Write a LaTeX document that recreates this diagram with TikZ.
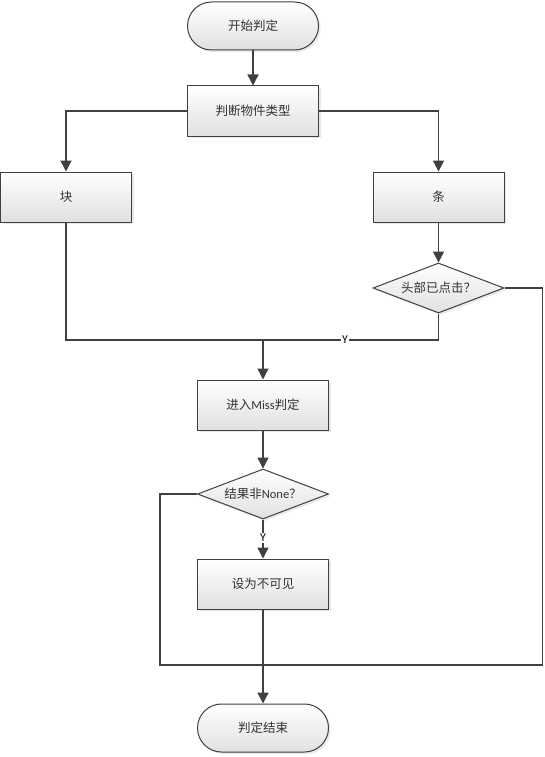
\documentclass[tikz,border=0pt]{standalone}
\usepackage{fontspec}
\setmainfont{Carlito}
\newfontfamily\cjk{Noto Sans CJK SC}
\usetikzlibrary{shapes.geometric,arrows.meta,shadows}
\definecolor{ln}{HTML}{404040}
\definecolor{tx}{HTML}{333333}
\tikzset{
  base/.style={draw=ln, line width=1pt, top color=white, bottom color=black!12,
    text=tx, font=\fontsize{12.5}{14}\selectfont, inner sep=0pt,
    drop shadow={opacity=0.18, shadow xshift=2pt, shadow yshift=-2pt}},
  proc/.style={base, rectangle, minimum width=131pt, minimum height=50pt},
  term/.style={base, rectangle, rounded corners=24pt, minimum width=131pt, minimum height=48pt},
  dec/.style={base, diamond, aspect=2.6, minimum width=131pt, minimum height=50pt},
  conn/.style={draw=ln, line width=1.4pt},
  arr/.style={conn, -{Triangle[length=11pt,width=11pt]}},
  ylab/.style={fill=white, inner sep=1.5pt, text=black, font=\fontsize{12}{14}\selectfont}
}
\begin{document}
\begin{tikzpicture}[x=1pt,y=-1pt]
\useasboundingbox (0,0) rectangle (544,757);
\fill[white] (0,0) rectangle (544,757);
\node[term] (start) at (253,26) {\cjk 开始判定};
\node[proc] (judge) at (253,111) {\cjk 判断物件类型};
\node[proc] (kuai) at (66,197) {\cjk 块};
\node[proc] (tiao) at (438.5,197) {\cjk 条};
\node[dec] (d1) at (438.5,288) {\cjk 头部已点击？};
\node[proc] (miss) at (263,405) {{\cjk 进入}Miss{\cjk 判定}};
\node[dec] (d2) at (263,494) {{\cjk 结果非}None{\cjk ？}};
\node[proc] (hide) at (263,584) {\cjk 设为不可见};
\node[term] (end) at (263,728) {\cjk 判定结束};
\coordinate (merge) at (263,340);
\coordinate (join) at (263,665);
\coordinate (r1) at (542.5,288);
\coordinate (l1) at (160,494);

\draw[arr] (start) -- (judge);
\draw[arr] (judge.west) -| (kuai.north);
\draw[arr] (judge.east) -| (tiao.north);
\draw[arr] (tiao) -- (d1);
\draw[conn] (kuai.south) |- (merge);
\draw[conn] (d1.south) |- (merge);
\node[ylab] (y1) at (345,340) {Y};
\draw[arr] (merge) -- (miss);
\draw[arr] (miss) -- (d2);
\draw[arr] (d2) -- (hide);
\node[ylab] (y2) at (263,538) {Y};
\draw[conn] (d1.east) -- (r1) |- (join);
\draw[conn] (d2.west) -- (l1) |- (join);
\draw[arr] (hide) -- (end);
\end{tikzpicture}
\end{document}
